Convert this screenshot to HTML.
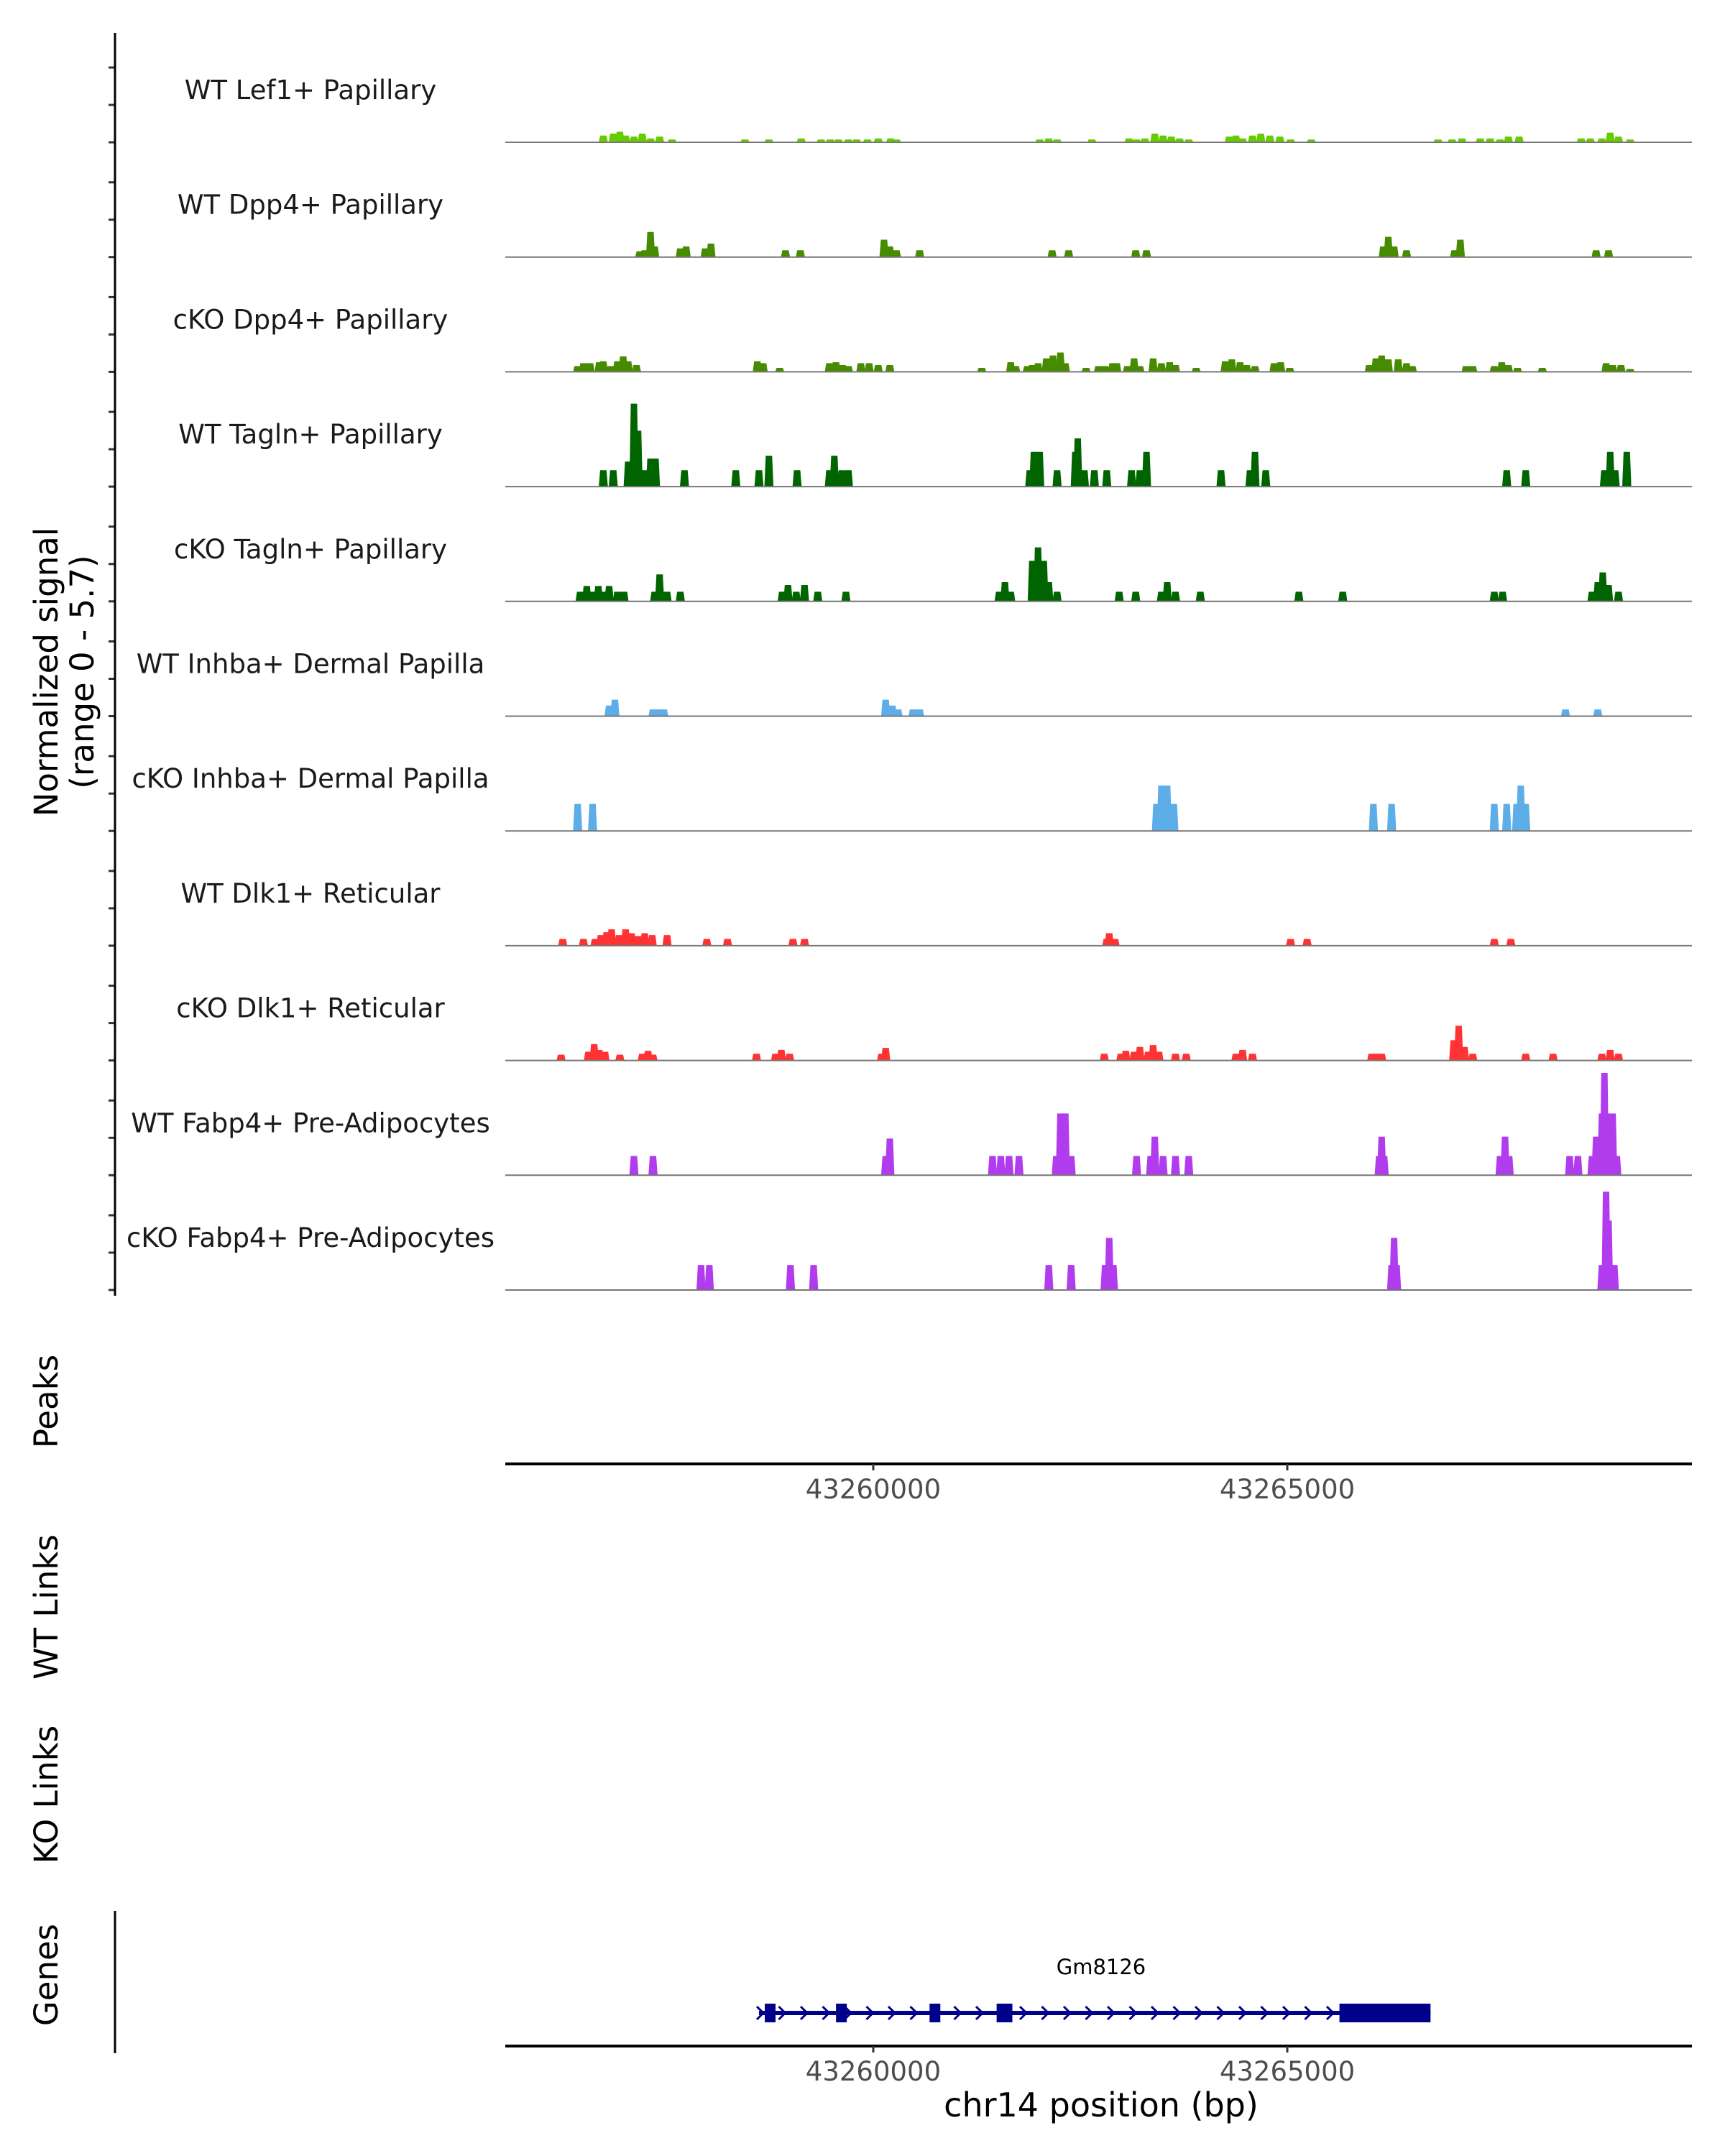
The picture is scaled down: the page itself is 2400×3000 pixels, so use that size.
<!DOCTYPE html>
<html><head><meta charset="utf-8"><style>
html,body{margin:0;padding:0;background:#fff;}
svg{display:block;font-family:"DejaVu Sans","Liberation Sans",sans-serif;}
</style></head><body>
<svg id="chart" width="2400" height="3000" viewBox="0 0 2400 3000" xmlns="http://www.w3.org/2000/svg">
<g id="tracks"></g>
<g id="axes"></g>
<text transform="translate(80,935) rotate(-90)" text-anchor="middle" font-size="45" fill="#000">Normalized signal</text>
<text transform="translate(130,935) rotate(-90)" text-anchor="middle" font-size="45" fill="#000">(range 0 - 5.7)</text>
<text transform="translate(80,1950) rotate(-90)" text-anchor="middle" font-size="45" fill="#000">Peaks</text>
<text transform="translate(80,2236) rotate(-90)" text-anchor="middle" font-size="45" fill="#000">WT Links</text>
<text transform="translate(80,2497) rotate(-90)" text-anchor="middle" font-size="45" fill="#000">KO Links</text>
<text transform="translate(80,2748) rotate(-90)" text-anchor="middle" font-size="45" fill="#000">Genes</text>
<line x1="160" y1="2659" x2="160" y2="2857" stroke="#000" stroke-width="3"/>
<text x="1532" y="2945" text-anchor="middle" font-size="46" fill="#000">chr14 position (bp)</text>
<text x="1532" y="2747" text-anchor="middle" font-size="29" fill="#000">Gm8126</text>
<g id="genes"></g>
</svg>
<script>
const trackLabels = ["WT Lef1+ Papillary","WT Dpp4+ Papillary","cKO Dpp4+ Papillary","WT Tagln+ Papillary","cKO Tagln+ Papillary","WT Inhba+ Dermal Papilla","cKO Inhba+ Dermal Papilla","WT Dlk1+ Reticular","cKO Dlk1+ Reticular","WT Fabp4+ Pre-Adipocytes","cKO Fabp4+ Pre-Adipocytes"];
const trackColors = ["#66cc00","#478c00","#478c00","#006400","#006400","#5dade8","#5dade8","#ff3333","#ff3333","#b03cee","#b03cee"];
const xTicks = [43260000, 43265000];
const xTickLabels = ["43260000","43265000"];
const xDomainKb = [43255.556, 43269.887];
const yMax = 5.7;

const pos1 = [43256.74,43256.86,43256.94,43257.01,43257.11,43257.21,43257.31,43257.42,43257.57,43258.45,43258.74,43259.13,43259.37,43259.48,43259.58,43259.70,43259.80,43259.93,43260.06,43260.21,43260.28,43262.01,43262.12,43262.22,43262.64,43263.09,43263.18,43263.28,43263.40,43263.50,43263.60,43263.70,43263.81,43264.30,43264.38,43264.46,43264.58,43264.68,43264.79,43264.91,43265.04,43265.29,43266.82,43266.99,43267.11,43267.33,43267.45,43267.57,43267.67,43267.80,43268.55,43268.66,43268.80,43268.90,43269.00,43269.14];
const val1 = [0.35,0.45,0.55,0.35,0.3,0.45,0.2,0.3,0.15,0.15,0.15,0.2,0.15,0.15,0.15,0.15,0.15,0.15,0.2,0.2,0.15,0.15,0.2,0.15,0.15,0.2,0.15,0.2,0.45,0.35,0.3,0.2,0.15,0.3,0.35,0.2,0.35,0.45,0.35,0.3,0.15,0.15,0.15,0.15,0.2,0.2,0.2,0.15,0.3,0.3,0.2,0.2,0.2,0.5,0.3,0.15];

const pos2 = [43257.18,43257.24,43257.31,43257.36,43257.67,43257.74,43257.97,43258.04,43258.94,43259.12,43260.13,43260.20,43260.28,43260.56,43262.16,43262.36,43263.17,43263.30,43266.16,43266.22,43266.29,43266.44,43267.02,43267.09,43268.73,43268.88];
const val2 = [0.3,0.35,1.3,0.55,0.45,0.55,0.45,0.7,0.35,0.35,0.9,0.55,0.35,0.35,0.35,0.35,0.35,0.35,0.55,1.05,0.55,0.35,0.35,0.9,0.35,0.35];

const pos3 = [43256.43,43256.50,43256.58,43256.69,43256.74,43256.83,43256.91,43256.98,43257.04,43257.14,43258.60,43258.67,43258.87,43259.47,43259.55,43259.63,43259.70,43259.85,43259.95,43260.06,43260.20,43261.31,43261.66,43261.72,43261.86,43261.92,43261.99,43262.09,43262.17,43262.26,43262.32,43262.57,43262.72,43262.80,43262.89,43262.94,43263.07,43263.15,43263.22,43263.38,43263.48,43263.58,43263.65,43263.90,43264.25,43264.33,43264.43,43264.51,43264.61,43264.84,43264.92,43265.03,43265.99,43266.07,43266.14,43266.22,43266.34,43266.44,43266.51,43267.16,43267.24,43267.50,43267.59,43267.67,43267.78,43268.08,43268.85,43268.93,43269.03,43269.14];
const val3 = [0.3,0.45,0.45,0.5,0.55,0.3,0.55,0.8,0.55,0.35,0.55,0.45,0.2,0.45,0.5,0.35,0.3,0.45,0.45,0.35,0.35,0.2,0.5,0.3,0.3,0.35,0.45,0.7,0.85,1.0,0.45,0.2,0.3,0.3,0.45,0.45,0.3,0.7,0.3,0.7,0.45,0.5,0.35,0.2,0.55,0.65,0.5,0.35,0.3,0.45,0.5,0.2,0.35,0.7,0.85,0.65,0.65,0.45,0.3,0.3,0.3,0.3,0.5,0.35,0.2,0.2,0.45,0.35,0.35,0.15];

const pos4 = [43256.74,43256.86,43257.04,43257.11,43257.16,43257.24,43257.31,43257.37,43257.72,43258.34,43258.62,43258.74,43259.08,43259.47,43259.53,43259.62,43259.70,43261.89,43261.94,43262.01,43262.22,43262.44,43262.47,43262.55,43262.67,43262.82,43263.12,43263.22,43263.30,43264.20,43264.55,43264.61,43264.74,43267.65,43267.88,43268.83,43268.90,43268.96,43269.10];
const val4 = [0.85,0.85,1.3,4.3,2.9,0.85,1.45,1.45,0.85,0.85,0.85,1.6,0.85,0.85,1.6,0.85,0.85,0.85,1.8,1.8,0.85,1.8,2.5,0.85,0.85,0.85,0.85,0.85,1.8,0.85,0.85,1.8,0.85,0.85,0.85,0.85,1.8,0.85,1.8];

const pos5 = [43256.46,43256.54,43256.61,43256.68,43256.74,43256.81,43256.91,43256.99,43257.36,43257.42,43257.51,43257.67,43258.90,43258.97,43259.07,43259.17,43259.33,43259.67,43261.52,43261.59,43261.66,43261.92,43261.99,43262.06,43262.12,43262.22,43262.97,43263.17,43263.48,43263.55,43263.65,43263.95,43265.14,43265.67,43267.50,43267.60,43268.68,43268.75,43268.81,43268.88,43269.00];
const val5 = [0.5,0.8,0.5,0.8,0.5,0.8,0.5,0.5,0.5,1.4,0.5,0.5,0.5,0.85,0.5,0.85,0.5,0.5,0.5,1.0,0.5,2.1,2.8,2.1,1.0,0.5,0.5,0.5,0.5,1.0,0.5,0.5,0.5,0.5,0.5,0.5,0.5,1.0,1.5,0.85,0.5];

const pos6 = [43256.81,43256.88,43257.34,43257.41,43257.47,43260.15,43260.23,43260.30,43260.48,43260.56,43268.36,43268.75];
const val6 = [0.55,0.85,0.35,0.35,0.35,0.85,0.55,0.35,0.35,0.35,0.35,0.35];

const pos7 = [43256.43,43256.61,43263.42,43263.48,43263.55,43263.63,43266.04,43266.26,43267.50,43267.65,43267.77,43267.82,43267.88];
const val7 = [1.4,1.4,1.4,2.35,2.35,1.4,1.4,1.4,1.4,1.4,1.4,2.35,1.4];

const pos8 = [43256.25,43256.50,43256.64,43256.71,43256.78,43256.84,43256.93,43257.01,43257.08,43257.16,43257.24,43257.33,43257.51,43257.99,43258.24,43259.03,43259.17,43262.82,43262.85,43262.92,43265.04,43265.24,43267.50,43267.70];
const val8 = [0.35,0.35,0.35,0.55,0.7,0.85,0.55,0.85,0.65,0.5,0.65,0.55,0.55,0.35,0.35,0.35,0.35,0.35,0.65,0.35,0.35,0.35,0.35,0.35];

const pos9 = [43256.23,43256.56,43256.63,43256.69,43256.76,43256.94,43257.21,43257.28,43257.34,43258.59,43258.82,43258.89,43258.99,43260.10,43260.15,43262.79,43262.99,43263.05,43263.15,43263.22,43263.32,43263.38,43263.45,43263.65,43263.78,43264.38,43264.46,43264.58,43266.02,43266.09,43266.14,43267.01,43267.07,43267.14,43267.24,43267.88,43268.21,43268.80,43268.90,43269.00];
const val9 = [0.3,0.45,0.85,0.55,0.45,0.3,0.35,0.5,0.3,0.35,0.35,0.55,0.35,0.35,0.65,0.35,0.35,0.5,0.45,0.7,0.45,0.8,0.45,0.35,0.35,0.35,0.55,0.35,0.35,0.35,0.35,1.05,1.8,0.7,0.35,0.35,0.35,0.35,0.55,0.35];

const pos10 = [43257.11,43257.34,43260.15,43260.20,43261.44,43261.54,43261.64,43261.76,43262.21,43262.26,43262.32,43262.39,43263.18,43263.35,43263.40,43263.50,43263.65,43263.81,43266.11,43266.14,43266.17,43267.57,43267.63,43267.68,43268.41,43268.51,43268.68,43268.73,43268.80,43268.86,43268.83,43268.93,43268.98];
const val10 = [1.0,1.0,1.0,1.9,1.0,1.0,1.0,1.0,1.0,3.2,3.2,1.0,1.0,1.0,2.0,1.0,1.0,1.0,1.0,2.0,1.0,1.0,2.0,1.0,1.0,1.0,1.0,2.0,3.2,3.2,5.3,3.2,1.0];

const pos11 = [43257.92,43258.02,43259.00,43259.28,43262.12,43262.39,43262.80,43262.85,43262.90,43266.26,43266.29,43266.32,43268.80,43268.85,43268.88,43268.95];
const val11 = [1.3,1.3,1.3,1.3,1.3,1.3,1.3,2.7,1.3,1.3,2.7,1.3,1.3,5.1,3.6,1.3];

const allPos = [pos1,pos2,pos3,pos4,pos5,pos6,pos7,pos8,pos9,pos10,pos11];
const allVal = [val1,val2,val3,val4,val5,val6,val7,val8,val9,val10,val11];

const geneExonsStart = [43258.69,43259.55,43260.68,43261.49,43265.63];
const geneExonsEnd = [43258.82,43259.68,43260.81,43261.68,43266.73];
const geneStartKb = 43258.62;
const geneEndKb = 43266.73;

const NS = "http://www.w3.org/2000/svg";
const X0 = 703, X1 = 2354;
function xKb(kb){ return X0 + (kb - xDomainKb[0]) / (xDomainKb[1]-xDomainKb[0]) * (X1-X0); }
function xBp(bp){ return xKb(bp/1000); }
const TOP = 46, TRACK_H = 159.7, FIRST_BASE = 198;
function baseY(i){ return FIRST_BASE + i*TRACK_H; }
function yVal(i, v){ return baseY(i) - v / yMax * 153; }
function mk(tag, attrs, parent){ const e=document.createElementNS(NS,tag); for(const k in attrs) e.setAttribute(k,attrs[k]); parent.appendChild(e); return e; }

const tracksG = document.getElementById('tracks');
const axesG = document.getElementById('axes');
const halfW = 0.055;
for(let i=0;i<trackLabels.length;i++){
  const g = mk('g',{},tracksG);
  
  
  const b = baseY(i);
  const t = mk('text',{x:432,y:b-60,'text-anchor':'middle','font-size':37,fill:'#1a1a1a'},g);
  
  
  t.textContent = trackLabels[i];
  const ps = allPos[i], vs = allVal[i];
  for(let j=0;j<ps.length;j++){
    const xl = xKb(ps[j]-halfW), xr = xKb(ps[j]+halfW);
    const xl2 = xKb(ps[j]-halfW*0.7), xr2 = xKb(ps[j]+halfW*0.7);
    const yt = yVal(i, vs[j]);
    const p = mk('polygon',{points:`${xl},${b} ${xl2},${yt} ${xr2},${yt} ${xr},${b}`,fill:trackColors[i]},g);
    
    
  }
  const bl = mk('line',{x1:X0,y1:b,x2:X1,y2:b,stroke:'#777','stroke-width':2},g);
  
  
  for(let k=0;k<3;k++){
    const ty = b - k*52;
    const tk = mk('line',{x1:151,y1:ty,x2:160,y2:ty,stroke:'#333','stroke-width':3},axesG);
    
    
  }
}
const yAxis = mk('line',{x1:160,y1:TOP,x2:160,y2:1803,stroke:'#000','stroke-width':3},axesG);



function xAxis(y, name){
  const ax = mk('line',{x1:X0,y1:y,x2:X1,y2:y,stroke:'#000','stroke-width':4},axesG);
  
  
  for(let i=0;i<xTicks.length;i++){
    const x = xBp(xTicks[i]);
    const tk = mk('line',{x1:x,y1:y,x2:x,y2:y+9,stroke:'#333','stroke-width':3},axesG);
    
    
    const tl = mk('text',{x:x,y:y+48,'text-anchor':'middle','font-size':37,fill:'#4d4d4d'},axesG);
    
    
    tl.textContent = xTickLabels[i];
  }
}
xAxis(2037,'peaks-x-axis');
xAxis(2847,'genes-x-axis');

const geneG = document.getElementById('genes');
const gy = 2801;
const gl = mk('line',{x1:xKb(geneStartKb),y1:gy,x2:xKb(geneEndKb),y2:gy,stroke:'#00008b','stroke-width':6},geneG);


for(let x=xKb(geneStartKb)+2; x<xKb(geneExonsStart[4]); x+=30.5){
  const c = mk('polyline',{points:`${x-5},${gy-9} ${x+4},${gy} ${x-5},${gy+9}`,fill:'none',stroke:'#00008b','stroke-width':3},geneG);
  
  
}
for(let i=0;i<geneExonsStart.length;i++){
  const x1 = xKb(geneExonsStart[i]), x2 = xKb(geneExonsEnd[i]);
  const r = mk('rect',{x:x1,y:gy-13,width:x2-x1,height:26,fill:'#00008b'},geneG);
  
  
}
</script>
</body></html>
